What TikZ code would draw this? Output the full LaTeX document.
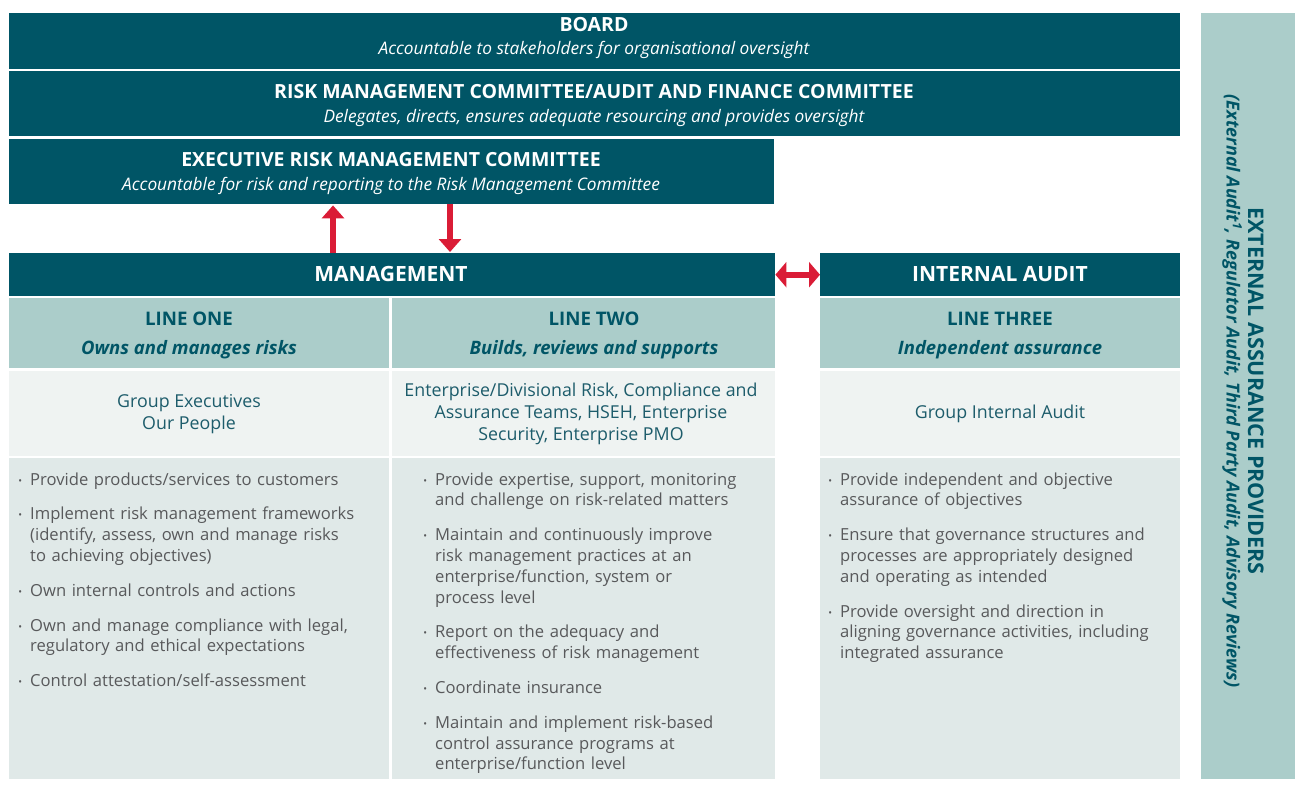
\documentclass[tikz,border=0pt]{standalone}
\usepackage{fontspec}
\setmainfont{Open Sans}
\usepackage{enumitem}
\usetikzlibrary{arrows.meta}
\usepackage{xcolor}

\definecolor{riskteal}{HTML}{005566}
\definecolor{riskpale}{HTML}{ABCDCA}
\definecolor{riskunit}{HTML}{EFF3F2}
\definecolor{riskbody}{HTML}{E0E9E8}
\definecolor{riskred}{HTML}{DA1C36}
\definecolor{riskgray}{HTML}{58595B}
\definecolor{riskunittext}{HTML}{1D5C6B}

\tikzset{
  darkbox/.style={fill=riskteal, inner sep=0pt, anchor=north west},
  palebox/.style={fill=riskpale, inner sep=0pt, anchor=north west},
  unitbox/.style={fill=riskunit, inner sep=0pt, anchor=north west},
  bodybox/.style={fill=riskbody, inner sep=0pt, anchor=north west},
  headtitle/.style={text=white, inner sep=0pt, text height=13.5pt, text depth=0pt, font=\fontsize{19.5}{22}\selectfont\bfseries},
  headsub/.style={text=white, inner sep=0pt, text height=12pt, text depth=0pt, font=\fontsize{17.3}{20}\selectfont\itshape},
  linetitle/.style={text=riskteal, inner sep=0pt, text height=13pt, text depth=0pt, font=\fontsize{18.7}{22}\selectfont\bfseries},
  linesub/.style={text=riskteal, inner sep=0pt, text height=13pt, text depth=0pt, font=\fontsize{18.5}{22}\selectfont\bfseries\itshape},
  unittext/.style={text=riskunittext, inner sep=0pt, align=center, font=\fontsize{17.8}{22}\selectfont},
  bulletlist/.style={text=riskgray, inner sep=0pt, anchor=north west, text width=380pt, font=\fontsize{16.6}{20.8}\selectfont},
  flowarrow/.style={line width=6pt, draw=riskred, -{Triangle[width=22pt,length=13pt]}},
}
\setlist[itemize]{nosep, itemsep=14pt, leftmargin=12pt, labelsep=8pt, label={\raisebox{1pt}{\fontsize{10}{10}\selectfont\textbullet}}}

\begin{document}
\begin{tikzpicture}[x=1pt, y=-1pt, line join=round]
  \useasboundingbox (0,0) rectangle (1295,787);

  % ========================================================
  % 1. GOVERNANCE BANDS
  % ========================================================
  \node[darkbox, minimum width=1171pt, minimum height=56pt] (board) at (9,13) {};
  \node[darkbox, minimum width=1171pt, minimum height=65pt] (rmc) at (9,71) {};
  \node[darkbox, minimum width=765pt, minimum height=65pt] (exec) at (9,139) {};

  \node[headtitle] (boardT) at (594,25) {BOARD};
  \node[headsub] (boardS) at (594,48) {Accountable to stakeholders for organisational oversight};
  \node[headtitle] (rmcT) at (594,92) {RISK MANAGEMENT COMMITTEE/AUDIT AND FINANCE COMMITTEE};
  \node[headsub] (rmcS) at (594,116) {Delegates, directs, ensures adequate resourcing and provides oversight};
  \node[headtitle] (execT) at (391,160) {EXECUTIVE RISK MANAGEMENT COMMITTEE};
  \node[headsub] (execS) at (391,184) {Accountable for risk and reporting to the Risk Management Committee};

  % ========================================================
  % 2. MANAGEMENT AND INTERNAL AUDIT
  % ========================================================
  \node[darkbox, minimum width=766pt, minimum height=43pt] (mgmt) at (9,253) {};
  \node[darkbox, minimum width=360pt, minimum height=43pt] (ia) at (820,253) {};
  \node[headtitle, text height=15pt, font=\fontsize{21}{22}\selectfont\bfseries] (mgmtT) at (391,274) {MANAGEMENT};
  \node[headtitle, text height=15pt, font=\fontsize{21}{22}\selectfont\bfseries] (iaT) at (1000,274) {INTERNAL AUDIT};

  % red arrows
  \coordinate (upX) at (333,0);
  \coordinate (downX) at (450,0);
  \draw[flowarrow, shorten >=1pt] (upX |- mgmt.north) -- (upX |- exec.south);
  \draw[flowarrow, shorten >=1pt] (downX |- exec.south) -- (downX |- mgmt.north);
  \draw[line width=6pt, draw=riskred, {Triangle[width=25pt,length=11pt]}-{Triangle[width=25pt,length=11pt]}] (mgmt.east) -- (ia.west);

  % ========================================================
  % 3. THE THREE LINES
  % ========================================================
  \node[palebox, minimum width=380pt, minimum height=70pt] (l1head) at (9,298) {};
  \node[palebox, minimum width=383pt, minimum height=70pt] (l2head) at (392,298) {};
  \node[palebox, minimum width=360pt, minimum height=70pt] (l3head) at (820,298) {};
  \node[unitbox, minimum width=380pt, minimum height=85pt] (l1unit) at (9,371) {};
  \node[unitbox, minimum width=383pt, minimum height=85pt] (l2unit) at (392,371) {};
  \node[unitbox, minimum width=360pt, minimum height=85pt] (l3unit) at (820,371) {};
  \node[bodybox, minimum width=380pt, minimum height=321pt] (l1body) at (9,458) {};
  \node[bodybox, minimum width=383pt, minimum height=321pt] (l2body) at (392,458) {};
  \node[bodybox, minimum width=360pt, minimum height=321pt] (l3body) at (820,458) {};

  \node[linetitle] (l1T) at (189,319) {LINE ONE};
  \node[linesub] (l1S) at (189,348) {Owns and manages risks};
  \node[linetitle] (l2T) at (594,319) {LINE TWO};
  \node[linesub] (l2S) at (594,348) {Builds, reviews and supports};
  \node[linetitle] (l3T) at (1000,319) {LINE THREE};
  \node[linesub] (l3S) at (1000,348) {Independent assurance};

  \node[unittext] (l1U) at (189,414) {Group Executives\\Our People};
  \node[unittext] (l2U) at (581,414) {Enterprise/Divisional Risk, Compliance and\\Assurance Teams, HSEH, Enterprise\\Security, Enterprise PMO};
  \node[unittext] (l3U) at (1000,414) {Group Internal Audit};

  \node[bulletlist] (l1L) at (18,464) {\begin{itemize}
    \item Provide products/services to customers
    \item Implement risk management frameworks\\(identify, assess, own and manage risks\\to achieving objectives)
    \item Own internal controls and actions
    \item Own and manage compliance with legal,\\regulatory and ethical expectations
    \item Control attestation/self-assessment
  \end{itemize}};
  \node[bulletlist] (l2L) at (423,464) {\begin{itemize}
    \item Provide expertise, support, monitoring\\and challenge on risk-related matters
    \item Maintain and continuously improve\\risk management practices at an\\enterprise/function, system or\\process level
    \item Report on the adequacy and\\effectiveness of risk management
    \item Coordinate insurance
    \item Maintain and implement risk-based\\control assurance programs at\\enterprise/function level
  \end{itemize}};
  \node[bulletlist] (l3L) at (828,464) {\begin{itemize}
    \item Provide independent and objective\\assurance of objectives
    \item Ensure that governance structures and\\processes are appropriately designed\\and operating as intended
    \item Provide oversight and direction in\\aligning governance activities, including\\integrated assurance
  \end{itemize}};

  % ========================================================
  % 4. EXTERNAL ASSURANCE BAR
  % ========================================================
  \node[palebox, minimum width=94pt, minimum height=766pt] (ext) at (1201,13) {};
  \node[rotate=-90, text=riskteal, align=center, inner sep=0pt] (extT) at (1243,391)
    {{\fontsize{21.5}{22}\selectfont\bfseries EXTERNAL ASSURANCE PROVIDERS}\\[5pt]
     {\fontsize{18}{20}\selectfont\bfseries\itshape (External Audit\textsuperscript{1}, Regulator Audit, Third Party Audit, Advisory Reviews)}};
\end{tikzpicture}
\end{document}
